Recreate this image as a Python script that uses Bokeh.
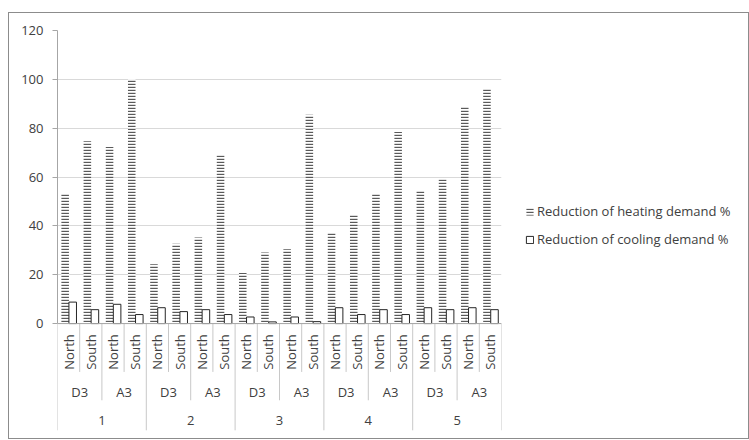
from bokeh.plotting import figure
from bokeh.layouts import row
from bokeh.models import (FactorRange, Range1d, FixedTicker, Span, Legend, LegendItem,
                          ColumnDataSource)
from bokeh.transform import dodge
from bokeh.core.properties import value
from bokeh.embed import file_html
from bokeh.resources import INLINE
from math import pi

# ---------------- data ----------------
groups = ["1", "2", "3", "4", "5"]
variants = ["D3", "A3"]
orients = ["North", "South"]
heating = [53.2, 74.7, 72.3, 100.0,
           24.3, 32.7, 35.2, 68.9,
           20.7, 29.1, 30.4, 85.5,
           37.5, 44.7, 53.2, 78.4,
           54.3, 59.1, 89.1, 96.2]
cooling = [8.8, 5.7, 7.9, 3.7,
           6.5, 4.9, 5.7, 3.7,
           2.7, 0.7, 2.7, 0.8,
           6.5, 3.7, 5.7, 3.7,
           6.5, 5.7, 6.5, 5.7]
y_ticks = [0, 20, 40, 60, 80, 100, 120]
series_names = ["Reduction of heating demand %", "Reduction of cooling demand %"]

# ---------------- styling constants ----------------
FONT = "Open Sans"
TXT = "#404040"
GRID = "#d9d9d9"
AXIS = "#a6a6a6"
SEP = "#c8c8c8"
Y_MIN = -45  # room below zero for the multi-level category labels
LABEL_Y = [-39.6, -28.0, -11.6]        # group, variant, orientation label rows
SEP_BOTTOM = [-43.7, -31.4, -19.8]     # separator line ends per level
HEAT_STYLE = dict(fill_color="white", line_color=None, hatch_pattern="horizontal_line",
                  hatch_scale=3, hatch_weight=1.4, hatch_color="#5a5a5a")
COOL_STYLE = dict(fill_color="white", line_color="#262626", line_width=1)

factors = [(g, v, o) for g in groups for v in variants for o in orients]

x_range = FactorRange(*factors, factor_padding=0, subgroup_padding=0,
                      group_padding=0, range_padding=0)

p = figure(width=493, height=425, x_range=x_range, y_range=Range1d(Y_MIN, 120),
           output_backend="svg", toolbar_location=None, x_axis_location=None,
           min_border_left=48, min_border_top=17, min_border_bottom=5,
           min_border_right=1)
p.outline_line_color = None
p.background_fill_color = "white"
p.border_fill_color = "white"

# y axis
yax = p.yaxis[0]
yax.ticker = FixedTicker(ticks=y_ticks)
yax.bounds = (0, 120)
yax.axis_line_color = AXIS
yax.major_tick_line_color = AXIS
yax.major_tick_out = 5
yax.major_tick_in = 0
yax.minor_tick_line_color = None
yax.major_label_standoff = 9
yax.major_label_text_font = FONT
yax.major_label_text_font_size = "13px"
yax.major_label_text_color = TXT

p.ygrid.ticker = FixedTicker(ticks=y_ticks)
p.ygrid.grid_line_color = GRID
p.xgrid.grid_line_color = None

# bars
src = ColumnDataSource(dict(x=factors, heat=heating, cool=cooling))
p.vbar(x=dodge("x", -0.155, range=p.x_range), top="heat", bottom=0, width=0.34,
       source=src, **HEAT_STYLE)
p.vbar(x=dodge("x", 0.185, range=p.x_range), top="cool", bottom=0, width=0.34,
       source=src, **COOL_STYLE)

# horizontal category axis line at zero
p.add_layout(Span(location=0, dimension="width", line_color=AXIS, line_width=1))

# separators between categories (level of first differing factor element)
sx, sy0, sy1 = [], [], []
n = len(factors)
for j in range(n + 1):
    if j == 0 or j == n:
        lvl = 0
    else:
        a, b = factors[j - 1], factors[j]
        lvl = next(k for k in range(3) if a[k] != b[k])
    sx.append(j)
    sy0.append(0)
    sy1.append(SEP_BOTTOM[lvl])
p.segment(x0=sx, x1=sx, y0=sy0, y1=sy1, line_color=SEP, line_width=1)

# category labels
p.text(x=factors, y=[LABEL_Y[2]] * n, text=[f[2] for f in factors], angle=pi / 2,
       text_align="center", text_baseline="middle", text_font=value(FONT),
       text_font_size=value("13px"), text_color=TXT)
mids = [(g, v) for g in groups for v in variants]
p.text(x=mids, y=[LABEL_Y[1]] * len(mids), text=[m[1] for m in mids],
       text_align="center", text_baseline="middle", text_font=value(FONT),
       text_font_size=value("13px"), text_color=TXT)
p.text(x=groups, y=[LABEL_Y[0]] * len(groups), text=groups,
       text_align="center", text_baseline="middle", text_font=value(FONT),
       text_font_size=value("13px"), text_color=TXT)

# legend panel (separate figure to the right); the proxy renderers hold a
# single undefined (NaN) value, so they draw nothing but their legend swatch
q = figure(width=246, height=425, x_range=Range1d(0, 1), y_range=Range1d(0, 1),
           output_backend="svg", toolbar_location=None, x_axis_location=None,
           y_axis_location=None, min_border=0)
q.outline_line_color = None
q.grid.visible = False
nan = float("nan")
lh = q.vbar(x=[nan], top=[nan], bottom=[nan], width=0.5, **HEAT_STYLE)
lc = q.vbar(x=[nan], top=[nan], bottom=[nan], width=0.5, **COOL_STYLE)
legend = Legend(items=[LegendItem(label=series_names[0], renderers=[lh]),
                       LegendItem(label=series_names[1], renderers=[lc])],
                location=(23, 184), border_line_color=None, background_fill_alpha=0,
                label_text_font=FONT, label_text_font_size="13px",
                label_text_color=TXT, glyph_width=9, glyph_height=9,
                label_standoff=3, spacing=8, padding=0, margin=0, label_height=20)
q.add_layout(legend)

layout = row(p, q)
layout.styles = {"border": "1px solid #8c8c8c", "margin": "12px 0px 0px 8px"}

open("out.html", "w").write(file_html(layout, INLINE))
